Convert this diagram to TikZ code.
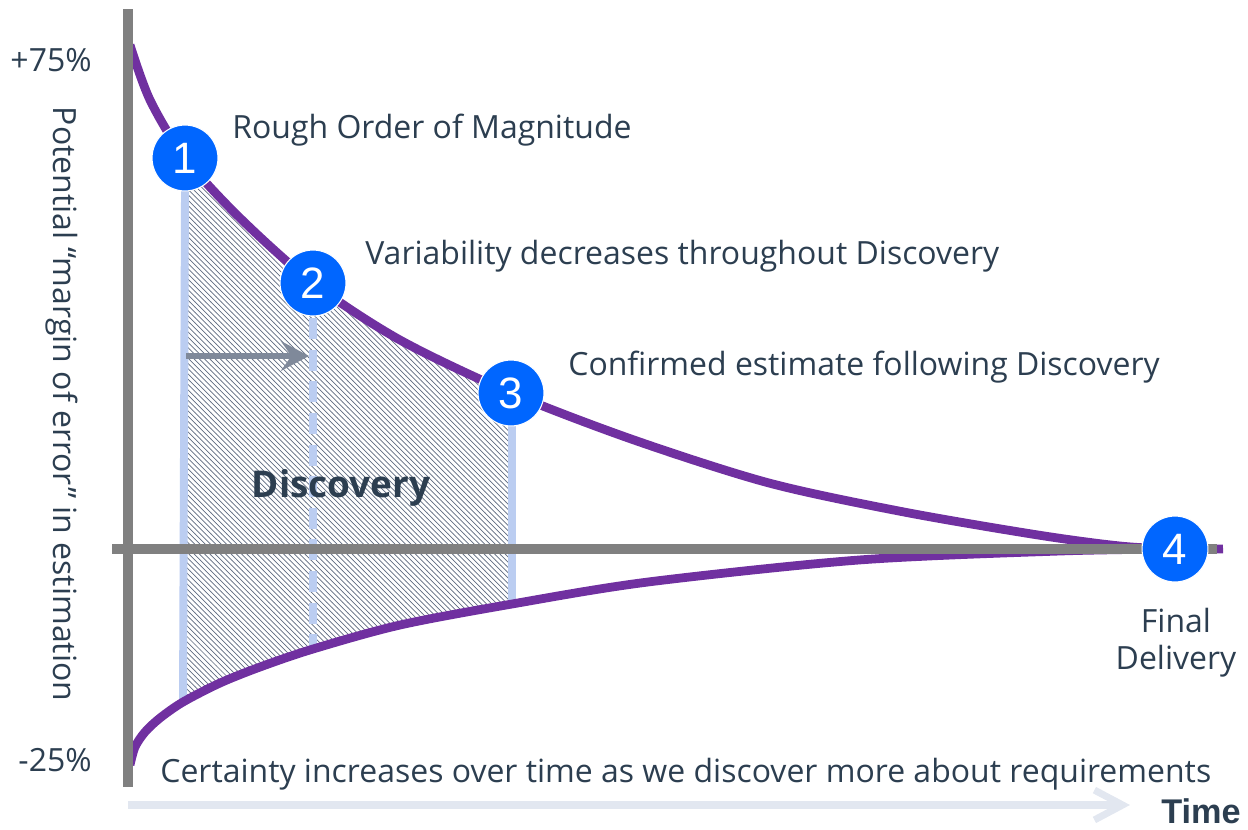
\documentclass[tikz,border=0pt]{standalone}
\usepackage{fontspec}
\setmainfont{Open Sans}
\newfontfamily\numfont{Liberation Sans}
\usepackage{tikz}
\usetikzlibrary{arrows.meta,patterns}
\definecolor{conepurple}{HTML}{7030A0}
\definecolor{axisgray}{HTML}{808080}
\definecolor{markblue}{HTML}{0066FF}
\definecolor{phaseblue}{HTML}{BBCDF1}
\definecolor{labelink}{HTML}{2C3E50}
\definecolor{shiftgray}{HTML}{7F899A}
\definecolor{timegray}{HTML}{E2E7F0}
\definecolor{hatchink}{HTML}{5F6B80}
\tikzset{
  axis/.style={draw=axisgray, line width=5.7pt},
  cone/.style={draw=conepurple, line width=5pt},
  phase/.style={draw=phaseblue, line width=4.5pt},
  marker/.style={circle, fill=markblue, draw=white, line width=0.6pt, minimum size=37.5pt, inner sep=0pt,
    text=white, font=\numfont\fontsize{25}{25}\selectfont},
  lbl/.style={text=labelink, inner sep=0pt, font=\fontsize{18.2}{22}\selectfont},
}

\begin{document}
\begin{tikzpicture}[x=0.02cm,y=-0.02cm]
  \useasboundingbox (0,0) rectangle (1248,829);
  \coordinate (c1) at (185,158);
  \coordinate (c2) at (313,283);
  \coordinate (c3) at (511,393);
  \coordinate (c4) at (1175,549);
  \coordinate (lo1) at (183,702);
  \coordinate (lo2) at (313,649);
  \coordinate (lo3) at (512,604);
  % hatched discovery band between the two curves
  \begin{scope}
    \clip (183,0) rectangle (512,829);
    \fill[pattern=north west lines, pattern color=hatchink]
      plot[smooth] coordinates {(130,45) (150,100) (185,158) (240,218) (313,283) (400,340) (511,393)
        (634,440) (769,483) (904,512) (1038,535) (1120,546) (1175,549)}
      -- plot[smooth] coordinates {(1175,549) (1060,551) (859,560) (648,582) (512,604) (400,625)
        (313,649) (260,667) (220,683) (183,702) (160,718) (145,732) (135,747) (130,765)} -- cycle;
  \end{scope}
  % phase borders and the shift arrow
  \draw[phase] (c1 |- 0,190) -- (lo1);
  \draw[phase, dash pattern=on 12pt off 6pt] (c2 |- 0,318) -- (lo2);
  \draw[phase] (lo3 |- 0,425) -- (lo3);
  \coordinate (sh0) at (186,356);
  \coordinate (sh1) at (309,356);
  \draw[shiftgray, line width=3.6pt, -{Stealth[length=16pt,width=17pt,inset=6pt]}] (sh0) -- (sh1);
  % the cone of uncertainty
  \draw[cone] plot[smooth] coordinates {(130,45) (150,100) (185,158) (240,218) (313,283) (400,340)
    (511,393) (634,440) (769,483) (904,512) (1038,535) (1120,546) (1175,549) (1223,549)};
  \draw[cone] plot[smooth] coordinates {(130,765) (135,747) (145,732) (160,718) (183,702) (220,683)
    (260,667) (313,649) (400,625) (512,604) (648,582) (859,560) (1060,551) (1175,549)};
  % axes
  \coordinate (ytop) at (128,9);
  \coordinate (ybot) at (128,787);
  \coordinate (xl) at (112,549);
  \coordinate (xr) at (1217,549);
  \draw[axis] (ytop) -- (ybot);
  \draw[axis] (xl) -- (xr);
  % milestones
  \node[marker] (m1) at (c1) {1};
  \node[marker] (m2) at (c2) {2};
  \node[marker] (m3) at (c3) {3};
  \node[marker] (m4) at (c4) {4};
  % time arrow
  \coordinate (t0) at (128,805);
  \coordinate (t1) at (1130,805);
  \draw[timegray, line width=4pt, -{Straight Barb[length=16pt,width=17pt]}] (t0) -- (t1);
  \node[text=labelink, inner sep=0pt, font=\numfont\bfseries\fontsize{19.5}{20}\selectfont, anchor=base] (time) at (1201,823) {Time};
  % labels
  \node[lbl, anchor=base east] (top) at (92,71) {+75\%};
  \node[lbl, anchor=base east] (bot) at (92,771) {-25\%};
  \node[lbl, rotate=-90] (yl) at (62,404) {Potential “margin of error” in estimation};
  \node[lbl, anchor=base west] (t1l) at (232,138) {Rough Order of Magnitude};
  \node[lbl, anchor=base west] (t2l) at (365,264) {Variability decreases throughout Discovery};
  \node[lbl, anchor=base west] (t3l) at (568,375) {Confirmed estimate following Discovery};
  \node[lbl, align=center, anchor=base] (t4l) at (1176,669) {Final\\[-1pt]Delivery};
  \node[lbl, anchor=base west] (cert) at (160,782) {Certainty increases over time as we discover more about requirements};
  \node[text=labelink, font=\bfseries\fontsize{21}{22}\selectfont, anchor=base] (disc) at (341,497) {Discovery};
\end{tikzpicture}
\end{document}
